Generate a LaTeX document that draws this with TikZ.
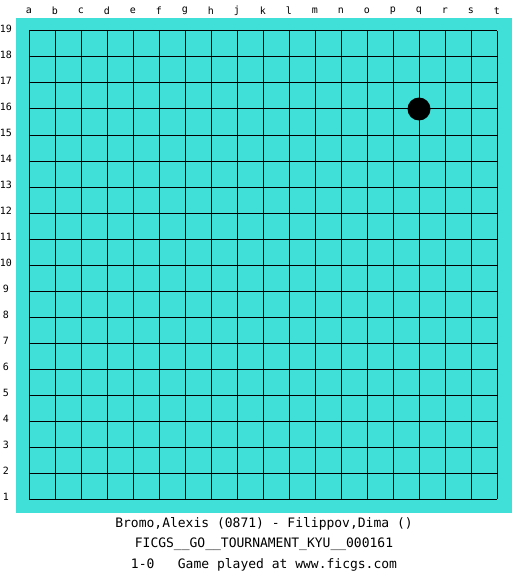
\documentclass[tikz,border=0pt]{standalone}
\usepackage{fontspec}
\setmonofont{DejaVu Sans Mono}
\definecolor{board}{RGB}{64,224,216}
\begin{document}
\begin{tikzpicture}[x=1pt,y=-1pt,
  gridline/.style={line width=1pt,black},
  lbl/.style={font=\ttfamily\fontsize{10}{12}\selectfont,inner sep=0pt},
  caption/.style={font=\ttfamily\fontsize{13}{15}\selectfont,inner sep=0pt},
  stone/.style={circle,fill=black,minimum size=23pt,inner sep=0pt}]
\useasboundingbox (0,0) rectangle (525,575);
\fill[white] (0,0) rectangle (525,575);
\fill[board] (16,18) rectangle (512,513);
\foreach \i in {0,...,18}{
  \draw[gridline] ({29+26*\i},31) -- ({29+26*\i},499);
  \draw[gridline] (29,{31+26*\i}) -- (497,{31+26*\i});
}
\foreach \c [count=\i from 0] in {a,b,c,d,e,f,g,h,j,k,l,m,n,o,p,q,r,s,t}{
  \node[lbl] (col\c) at ({29+26*\i},11) {\c};
}
\foreach \r in {1,...,19}{
  \node[lbl] (row\r) at (6,{31+26*(19-\r)-2}) {\r};
}
\node[stone] (q16) at (419,109) {};
\node[caption] (players) at (264,524) {Bromo,Alexis (0871) - Filippov,Dima ()};
\node[caption] (event) at (264,544) {FICGS\_\_GO\_\_TOURNAMENT\_KYU\_\_000161};
\node[caption] (result) at (264,565) {1-0\ \ \ Game played at www.ficgs.com};
\end{tikzpicture}
\end{document}
